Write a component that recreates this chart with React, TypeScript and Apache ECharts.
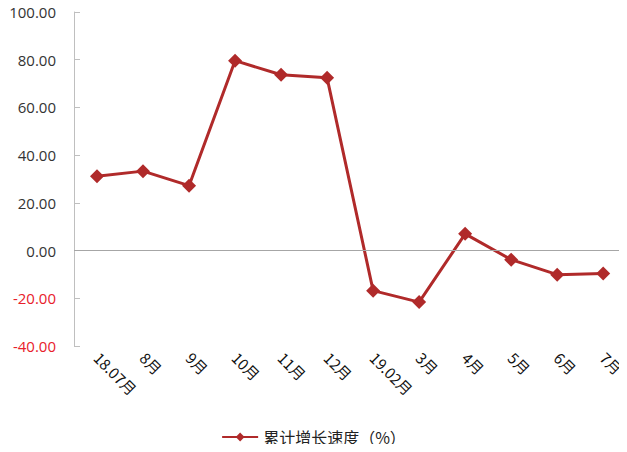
import React, { useEffect, useRef } from "react";
import * as echarts from "echarts";

const categories = ["18.07月", "8月", "9月", "10月", "11月", "12月", "19.02月", "3月", "4月", "5月", "6月", "7月"];
const growthValues = [31.2, 33.3, 27.2, 79.6, 73.7, 72.4, -16.8, -21.6, 7.0, -3.8, -10.1, -9.6];
const seriesName = "累计增长速度（%）";
const yTicks = [-40, -20, 0, 20, 40, 60, 80, 100];

export default function App() {
  const ref = useRef<HTMLDivElement>(null);
  useEffect(() => {
    if (!ref.current) return;
    const chart = echarts.init(ref.current, null, { renderer: "svg" });
    const red = "#B02A2A";
    chart.setOption({
      animation: false,
      textStyle: { fontFamily: "Noto Sans CJK SC, sans-serif" },
      grid: { left: 74, right: -2, top: 12, bottom: 106, containLabel: false },
      legend: {
        bottom: 2,
        left: "center",
        data: [seriesName],
        itemWidth: 36,
        itemHeight: 11,
        itemGap: 4,
        textStyle: { fontSize: 16, color: "#222", fontFamily: "Noto Sans CJK SC, sans-serif" },
      },
      xAxis: {
        type: "category",
        data: categories,
        boundaryGap: true,
        axisLine: { show: false, onZero: false },
        axisTick: { show: false },
        axisLabel: {
          rotate: -45,
          margin: 9,
          fontSize: 15,
          color: "#111",
          interval: 0,
          fontFamily: "Noto Sans CJK SC, sans-serif",
        },
      },
      yAxis: {
        type: "value",
        min: yTicks[0],
        max: yTicks[yTicks.length - 1],
        interval: 20,
        axisLine: { show: true, lineStyle: { color: "#BFBFBF", width: 1 } },
        axisTick: { show: true, inside: true, length: 6, lineStyle: { color: "#BFBFBF" } },
        splitLine: { show: false },
        axisLabel: {
          margin: 18,
          fontSize: 15,
          formatter: (v: number) => (v < 0 ? "{neg|" + v.toFixed(2) + "}" : "{pos|" + v.toFixed(2) + "}"),
          rich: {
            pos: { color: "#333", fontSize: 15, fontFamily: "Open Sans, sans-serif" },
            neg: { color: "#E8202A", fontSize: 15, fontFamily: "Open Sans, sans-serif" },
          },
        },
      },
      series: [
        {
          name: seriesName,
          type: "line",
          data: growthValues,
          symbol: "diamond",
          symbolSize: 14,
          lineStyle: { color: red, width: 3 },
          itemStyle: { color: red },
          markLine: {
            silent: true,
            symbol: ["none", "none"],
            label: { show: false },
            lineStyle: { color: "#A6A6A6", width: 1, type: "solid" },
            data: [{ yAxis: 0 }],
          },
        },
      ],
    });
    return () => chart.dispose();
  }, []);
  return <div ref={ref} style={{ width: 627, height: 452, margin: -8 }} />;
}
